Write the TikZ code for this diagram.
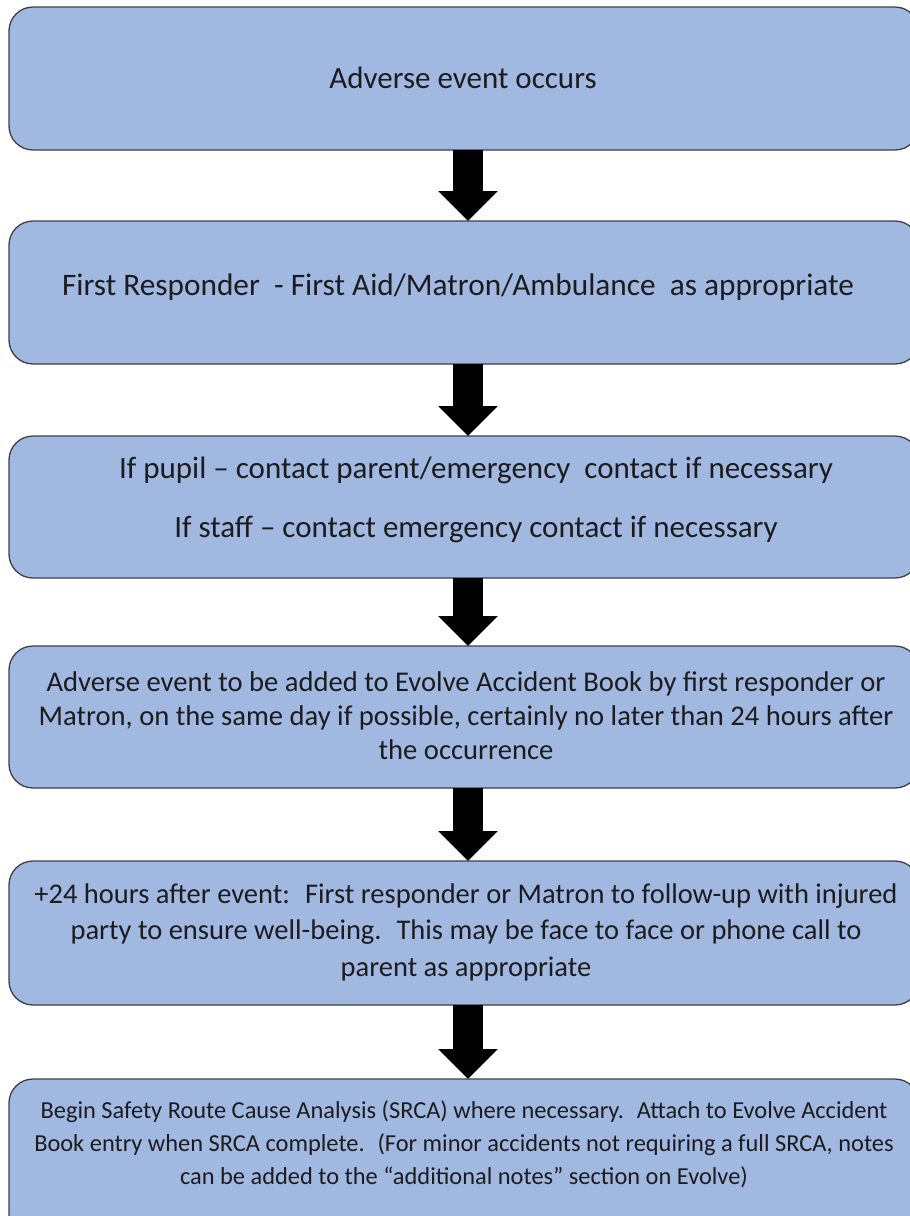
\documentclass[tikz,border=0pt]{standalone}
\usepackage{fontspec}
\setmainfont{Carlito}
\usetikzlibrary{arrows.meta}
\definecolor{boxfill}{RGB}{161,184,224}
\definecolor{boxline}{RGB}{60,64,72}
\definecolor{txt}{RGB}{28,28,32}
\tikzset{
  flowbox/.style={draw=boxline, line width=1.3pt, fill=boxfill, rounded corners=24pt,
    minimum width=910pt, minimum height=143pt, inner sep=0pt, outer sep=0pt, anchor=north west},
  flowtext/.style={text=txt, align=center, inner sep=0pt},
  blockarrow/.style={draw=black, line width=30pt, line cap=butt,
    -{Triangle[width=58pt,length=30pt]}}
}
\begin{document}
\begin{tikzpicture}[x=1pt,y=-1pt]
\useasboundingbox (0,0) rectangle (910,1216);
\clip (0,0) rectangle (910,1216);
\node[flowbox] (b1) at (9,7) {};
\node[flowbox] (b2) at (9,221) {};
\node[flowbox, minimum height=142pt] (b3) at (9,436) {};
\node[flowbox, minimum height=142pt] (b4) at (9,646) {};
\node[flowbox, minimum height=144pt] (b5) at (9,861) {};
\node[flowbox, minimum height=160pt] (b6) at (9,1079) {};

\node[flowtext, font=\fontsize{31}{36}\selectfont] (t1) at (463,78) {Adverse event occurs};
\node[flowtext, font=\fontsize{31.3}{36}\selectfont] (t2) at (458,287) {First Responder~ - First Aid/Matron/Ambulance~ as appropriate};
\node[flowtext, font=\fontsize{31}{59}\selectfont] (t3) at (476,500) {If pupil -- contact parent/emergency~ contact if necessary\\ If staff -- contact emergency contact if necessary};
\node[flowtext, font=\fontsize{28.6}{34}\selectfont] (t4) at (466,716) {Adverse event to be added to Evolve Accident Book by first responder or\\ Matron, on the same day if possible, certainly no later than 24 hours after\\ the occurrence};
\node[flowtext, font=\fontsize{28.5}{36.5}\selectfont] (t5) at (466,932) {+24 hours after event:~ First responder or Matron to follow-up with injured\\ party to ensure well-being.~ This may be face to face or phone call to\\ parent as appropriate};
\node[flowtext, font=\fontsize{24.4}{33}\selectfont] (t6) at (464,1144) {Begin Safety Route Cause Analysis (SRCA) where necessary.~ Attach to Evolve Accident\\ Book entry when SRCA complete.~ (For minor accidents not requiring a full SRCA, notes\\ can be added to the “additional notes” section on Evolve)};

\draw[blockarrow] ([xshift=4pt]b1.south) -- ([xshift=4pt]b2.north);
\draw[blockarrow] ([xshift=4pt]b2.south) -- ([xshift=4pt]b3.north);
\draw[blockarrow] ([xshift=4pt]b3.south) -- ([xshift=4pt]b4.north);
\draw[blockarrow] ([xshift=4pt]b4.south) -- ([xshift=4pt]b5.north);
\draw[blockarrow] ([xshift=4pt]b5.south) -- ([xshift=4pt]b6.north);
\end{tikzpicture}
\end{document}
